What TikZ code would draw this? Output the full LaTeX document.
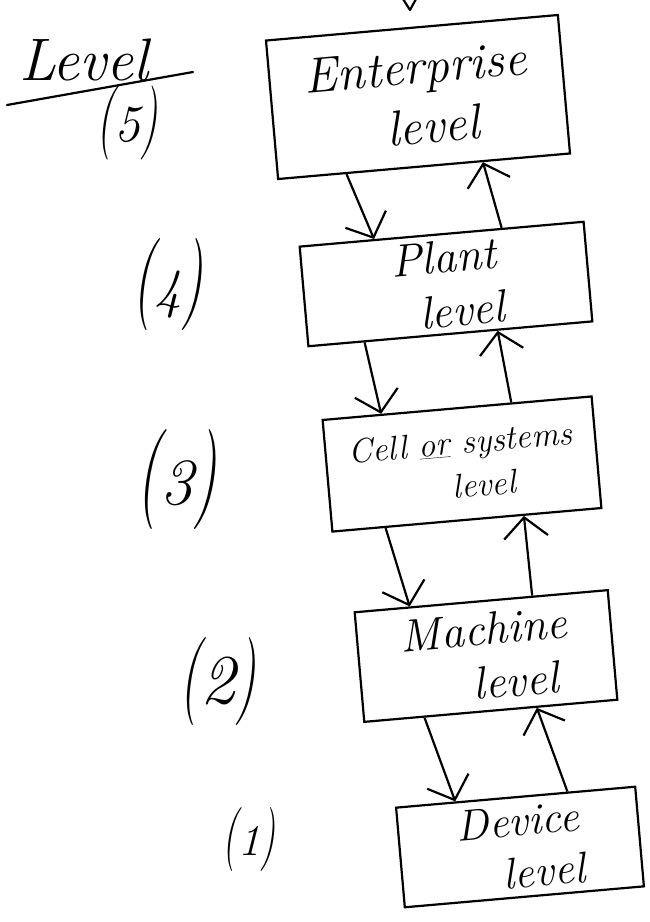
\documentclass[tikz,border=0pt]{standalone}
\usetikzlibrary{arrows.meta,calc}
\newcommand{\lvl}[3]{\fontsize{#1}{#1}\selectfont\scalebox{0.6}[1]{(}\fontsize{#2}{#2}\selectfont #3\fontsize{#1}{#1}\selectfont\scalebox{0.6}[1]{)}}
\begin{document}
\begin{tikzpicture}[x=1pt,y=-1pt,
  box/.style={draw, line width=2.2pt, rotate=5, inner sep=0pt, align=center},
  flow/.style={line width=2.2pt, -{Straight Barb[length=20pt,width=44pt]}},
  pen/.style={line width=2.2pt, line cap=round, line join=round},
  lab/.style={inner sep=0pt, font=\itshape}
]
\fill[white] (0,0) rectangle (650,922);
\useasboundingbox (0,0) rectangle (650,922);

% boxes
\node[box, minimum width=293pt, minimum height=139pt,
      font=\fontsize{50}{60}\selectfont\itshape] (E) at (418,97)
      {Enterprise\\\hspace*{0.5em}level};
\node[box, minimum width=285pt, minimum height=100pt,
      font=\fontsize{46}{54}\selectfont\itshape] (P) at (446,284)
      {Plant\\\hspace*{0.6em}level};
\node[box, minimum width=270pt, minimum height=112pt,
      font=\fontsize{34}{44}\selectfont\itshape] (C) at (462,464)
      {Cell \underline{or} systems\\\hspace*{1.2em}level};
\node[box, minimum width=254pt, minimum height=110pt,
      font=\fontsize{46}{54}\selectfont\itshape] (M) at (486,656)
      {Machine\\\hspace*{1.2em}level};
\node[box, minimum width=240pt, minimum height=100pt,
      font=\fontsize{44}{52}\selectfont\itshape] (D) at (520,847)
      {Device\\\hspace*{1em}level};

% connectors
\draw[flow] ($(E.south west)!0.236!(E.south east)$) -- ($(P.north west)!0.264!(P.north east)$);
\draw[flow] ($(P.north west)!0.71!(P.north east)$) -- ($(E.south west)!0.70!(E.south east)$);
\draw[flow] ($(P.south west)!0.20!(P.south east)$) -- ($(C.north west)!0.22!(C.north east)$);
\draw[flow] ($(C.north west)!0.70!(C.north east)$) -- ($(P.south west)!0.665!(P.south east)$);
\draw[flow] ($(C.south west)!0.20!(C.south east)$) -- ($(M.north west)!0.22!(M.north east)$);
\draw[flow] ($(M.north west)!0.70!(M.north east)$) -- ($(C.south west)!0.71!(C.south east)$);
\draw[flow] ($(M.south west)!0.24!(M.south east)$) -- ($(D.north west)!0.25!(D.north east)$);
\draw[flow] ($(D.north west)!0.715!(D.north east)$) -- ($(M.south west)!0.68!(M.south east)$);

% arrow tip cut by the top edge
\coordinate (t1) at (403,-1);
\coordinate (t2) at (410,10);
\coordinate (t3) at (416,-1);
\draw[pen] (t1) -- (t2) -- (t3);

% heading
\node[lab, anchor=base, font=\fontsize{60}{60}\selectfont\itshape] (lev) at (84,80) {Level};
\coordinate (u1) at (7,105);
\coordinate (u2) at (193,72);
\draw[pen] (u1) -- (u2);

% level numbers
\node[lab] (n5) at (127,123) {\lvl{74}{52}{5}};
\node[lab] (n4) at (168,285) {\lvl{92}{55}{4}};
\node[lab] (n3) at (177,480) {\lvl{100}{66}{3}};
\node[lab] (n2) at (218,682) {\lvl{88}{70}{2}};
\node[lab] (n1) at (249,840) {\lvl{64}{44}{1}};
\end{tikzpicture}
\end{document}
